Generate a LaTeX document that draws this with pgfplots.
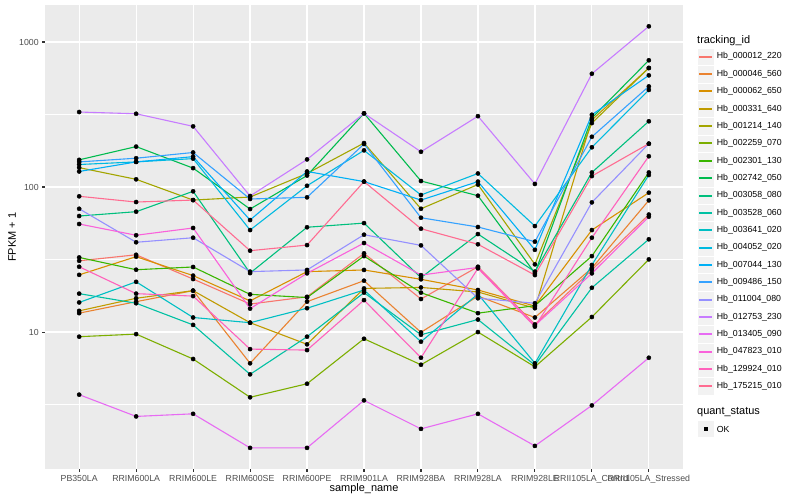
\documentclass[border=0pt]{standalone}
\usepackage{pgfplots}
\pgfplotsset{compat=1.18}
\usepackage{pgfplotstable}
\usepackage{fontspec}
\setmainfont{Liberation Sans}

\definecolor{c1}{HTML}{F8766D}
\definecolor{c2}{HTML}{EA8331}
\definecolor{c3}{HTML}{D89000}
\definecolor{c4}{HTML}{C09B00}
\definecolor{c5}{HTML}{A3A500}
\definecolor{c6}{HTML}{7CAE00}
\definecolor{c7}{HTML}{39B600}
\definecolor{c8}{HTML}{00BB4E}
\definecolor{c9}{HTML}{00BF7D}
\definecolor{c10}{HTML}{00C1A3}
\definecolor{c11}{HTML}{00BFC4}
\definecolor{c12}{HTML}{00BAE0}
\definecolor{c13}{HTML}{00B0F6}
\definecolor{c14}{HTML}{35A2FF}
\definecolor{c15}{HTML}{9590FF}
\definecolor{c16}{HTML}{C77CFF}
\definecolor{c17}{HTML}{E76BF3}
\definecolor{c18}{HTML}{FA62DB}
\definecolor{c19}{HTML}{FF62BC}
\definecolor{c20}{HTML}{FF6C91}
\definecolor{panel}{HTML}{EBEBEB}
\definecolor{keybg}{HTML}{F2F2F2}
\definecolor{gray20}{HTML}{333333}
\definecolor{gray30}{HTML}{4D4D4D}

% FPKM + 1, one row per sample, one column per tracking_id
\pgfplotstableread{
x  s1   s2   s3   s4   s5   s6   s7   s8   s9   s10  s11  s12  s13  s14  s15  s16  s17  s18  s19  s20
0  31.0 13.5 24.8 14.0 136  9.29 32.7 154  63.1 18.4 16.0 143  128  149  70.8 329  3.70 55.6 28.2 86.3
1  34.1 16.2 33.1 17.1 113  9.68 26.9 190  67.6 15.8 22.2 149  149  158  41.6 320  2.62 46.5 18.4 78.8
2  23.2 19.3 24.5 19.3 81.3 6.52 28.1 135  93.4 11.2 12.6 157  162  173  44.7 262  2.73 52.2 17.7 81.3
3  15.6 6.09 16.4 11.6 85.3 3.55 18.2 70.5 25.5 5.11 11.6 50.5 59.2 82.7 26.1 86.7 1.59 14.5 7.63 36.4
4  17.5 16.2 26.1 8.23 124  4.40 17.3 120  52.8 9.29 14.6 102  128  84.9 26.8 155  1.59 25.4 7.51 39.8
5  34.9 22.6 26.8 20.0 201  8.99 33.4 322  56.4 18.7 19.5 179  109  198  46.9 322  3.38 41.1 16.6 109
6  16.9 9.95 23.1 20.3 70.8 5.95 18.7 110  23.7 9.58 8.58 88.1 81.3 61.4 39.6 175  2.15 24.7 6.65 51.6
7  28.2 17.7 19.5 18.9 104  10.0 13.5 87.1 47.4 12.2 18.3 124  109  53.0 17.1 308  2.73 27.9 27.5 40.3
8  11.3 12.6 15.1 14.6 29.3 5.76 15.2 25.5 26.1 5.92 6.09 53.8 36.9 42.0 15.8 105  1.64 11.1 10.9 24.7
9  26.8 27.6 50.5 290  276  12.7 33.4 299  126  20.2 29.0 188  315  222  78.4 604  3.12 25.4 44.7 119
10 64.6 80.9 91.4 662  662  31.7 126  748  284  43.6 121  467  589  494  199  1283 6.65 62.4 163  199
}\fpkm

\begin{document}
\begin{tikzpicture}
\begin{axis}[
  at={(45bp,31bp)}, anchor=south west,
  scale only axis, width=638bp, height=463.7bp,
  xmin=-0.6, xmax=10.6,
  ymode=log, ymin=1.137, ymax=1791,
  axis background/.style={fill=panel},
  axis line style={draw=none},
  xtick={0,...,10},
  xticklabels={PB350LA,RRIM600LA,RRIM600LE,RRIM600SE,RRIM600PE,RRIM901LA,RRIM928BA,RRIM928LA,RRIM928LE,RRII105LA\_Control,RRII105LA\_Stressed},
  ytick={10,100,1000}, yticklabels={10,100,1000},
  minor ytick={3.1623,31.623,316.23},
  grid=both,
  major grid style={white, line width=1.2bp},
  minor grid style={white, line width=0.6bp},
  tick align=outside, major tick length=2.75bp, minor tick length=0pt,
  tick style={gray20, line width=1.1bp},
  xtick pos=left, ytick pos=left,
  ticklabel style={font=\fontsize{8.8}{10}\selectfont, text=gray30},
]
\pgfplotsinvokeforeach{1,...,20}{
  \addplot[color=c#1, line width=1.1bp, mark=none] table[x=x, y=s#1] {\fpkm};
}
\pgfplotsinvokeforeach{1,...,20}{
  \addplot[only marks, mark=*, mark size=2.1bp, black] table[x=x, y=s#1] {\fpkm};
}
\end{axis}

\begin{scope}[x=1bp,y=1bp]
% axis titles
\node[font=\fontsize{11}{13}\selectfont] at (364,11) {sample\_name};
\node[rotate=90, font=\fontsize{11}{13}\selectfont] at (12,262.8) {FPKM + 1};

% legend: tracking_id
\node[anchor=west, inner sep=0pt, font=\fontsize{11}{13}\selectfont] at (697,459.3) {tracking\_id};
\foreach \n [count=\i from 0] in {Hb\_000012\_220,Hb\_000046\_560,Hb\_000062\_650,Hb\_000331\_640,Hb\_001214\_140,Hb\_002259\_070,Hb\_002301\_130,Hb\_002742\_050,Hb\_003058\_080,Hb\_003528\_060,Hb\_003641\_020,Hb\_004052\_020,Hb\_007044\_130,Hb\_009486\_150,Hb\_011004\_080,Hb\_012753\_230,Hb\_013405\_090,Hb\_047823\_010,Hb\_129924\_010,Hb\_175215\_010}{
  \pgfmathtruncatemacro{\k}{\i+1}
  \pgfmathsetmacro{\yc}{443.3-17.35*\i}
  \pgfmathtruncatemacro{\yr}{round(\yc)}
  \draw[white, fill=keybg] (697,\yc-8.67) rectangle (714,\yc+8.67);
  \fill[c\k] (699,\yr-1) rectangle (712,\yr+1);
  \node[anchor=west, inner sep=0pt, font=\fontsize{8.8}{10}\selectfont] at (716.7,\yc) {\n};
}
% legend: quant_status
\node[anchor=west, inner sep=0pt, font=\fontsize{11}{13}\selectfont] at (697,87.7) {quant\_status};
\draw[white, fill=keybg] (697,62.3) rectangle (714,79.7);
\node[inner sep=0pt] at (705.5,71) {\rule{4bp}{4bp}};
\node[anchor=west, inner sep=0pt, font=\fontsize{8.8}{10}\selectfont] at (716.7,71) {OK};

\pgfresetboundingbox
\path[use as bounding box] (0,0) rectangle (800,500);
\end{scope}
\end{tikzpicture}
\end{document}
